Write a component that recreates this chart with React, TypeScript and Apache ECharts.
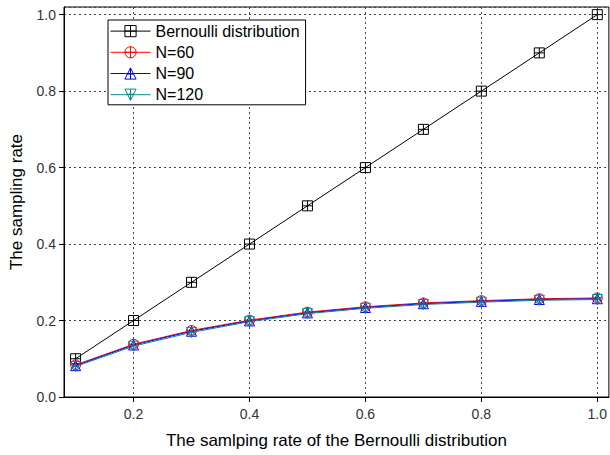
import React, { useEffect, useRef } from "react";
import * as echarts from "echarts";

// Sampling rates of the Bernoulli distribution (x axis)
const rates = [0.1, 0.2, 0.3, 0.4, 0.5, 0.6, 0.7, 0.8, 0.9, 1.0];
// Reference line: Bernoulli distribution sampling rate
const bernoulli = [0.1, 0.2, 0.3, 0.4, 0.5, 0.6, 0.7, 0.8, 0.9, 1.0];
// Measured sampling rates for different N
const n60 = [0.084, 0.138, 0.174, 0.201, 0.222, 0.236, 0.246, 0.252, 0.257, 0.259];
const n90 = [0.082, 0.136, 0.172, 0.199, 0.220, 0.234, 0.244, 0.250, 0.255, 0.257];
const n120 = [0.080, 0.133, 0.169, 0.197, 0.218, 0.232, 0.242, 0.248, 0.253, 0.255];
const xTicks = [0.2, 0.4, 0.6, 0.8, 1.0];

const SYM_SQUARE = "path://M0,0H10V10H0Z M5,0V10 M0,5H10";
const SYM_CIRCLE = "path://M0,5A5,5,0,1,1,10,5A5,5,0,1,1,0,5Z M5,0V10 M0,5H10";
const SYM_TRI_UP = "path://M5,0L10,10H0Z M5,0V10 M2,5.5H8";
const SYM_TRI_DOWN = "path://M0,0H10L5,10Z M5,0V10 M2,4.5H8";

const FONT = "Liberation Sans, Arial, sans-serif";

function makeSeries(name: string, values: number[], color: string, symbol: string) {
  return {
    name,
    type: "line",
    data: rates.map((x, i) => [x, values[i]]),
    symbol,
    symbolSize: 10,
    lineStyle: { color, width: 1 },
    itemStyle: { color: "none", borderColor: color, borderWidth: 1 },
    emphasis: { disabled: true },
  };
}

export default function App() {
  const ref = useRef<HTMLDivElement>(null);
  useEffect(() => {
    document.body.style.margin = "0";
    if (!ref.current) return;
    const chart = echarts.init(ref.current, undefined, { renderer: "svg" });
    const gridLine = { show: true, lineStyle: { color: "#444", type: [2, 3], width: 1 } };
    chart.setOption({
      animation: false,
      backgroundColor: "#fff",
      textStyle: { fontFamily: FONT },
      grid: {
        left: 63,
        right: -2,
        top: 7,
        bottom: 58,
        show: true,
        borderColor: "#000",
        borderWidth: 1,
        backgroundColor: "transparent",
      },
      legend: {
        orient: "vertical",
        left: 108,
        top: 20,
        padding: [3, 6, 2, 2],
        itemWidth: 40,
        itemHeight: 14,
        itemGap: 5,
        backgroundColor: "#fff",
        borderColor: "#000",
        borderWidth: 1,
        lineStyle: { width: 1 },
        itemStyle: { borderWidth: 1 },
        textStyle: { fontSize: 16, color: "#000", fontFamily: FONT },
        data: ["Bernoulli distribution", "N=60", "N=90", "N=120"],
      },
      xAxis: {
        type: "value",
        min: 0.08,
        max: 1.02,
        name: "The samlping rate of the Bernoulli distribution",
        nameLocation: "middle",
        nameGap: 35,
        nameTextStyle: { fontSize: 17, color: "#000", fontFamily: FONT },
        axisLine: { show: true, onZero: false, lineStyle: { color: "#000", width: 1 } },
        axisTick: { show: true, customValues: xTicks, length: 5, lineStyle: { color: "#000" } },
        axisLabel: {
          customValues: xTicks,
          fontSize: 14,
          color: "#333",
          margin: 10,
          fontFamily: FONT,
          formatter: (v: number) => v.toFixed(1),
        },
        splitLine: gridLine,
      },
      yAxis: {
        type: "value",
        min: 0,
        max: 1.02,
        interval: 0.2,
        name: "The sampling rate",
        nameLocation: "middle",
        nameGap: 39,
        nameTextStyle: { fontSize: 17, color: "#000", fontFamily: FONT },
        axisLine: { show: true, lineStyle: { color: "#000", width: 1 } },
        axisTick: { show: true, length: 5, lineStyle: { color: "#000" } },
        axisLabel: {
          fontSize: 14,
          color: "#333",
          margin: 8,
          fontFamily: FONT,
          showMaxLabel: false,
          formatter: (v: number) => (v > 1.001 ? "" : v.toFixed(1)),
        },
        splitLine: gridLine,
      },
      series: [
        makeSeries("Bernoulli distribution", bernoulli, "#000000", SYM_SQUARE),
        makeSeries("N=60", n60, "#ff0000", SYM_CIRCLE),
        makeSeries("N=90", n90, "#0000ff", SYM_TRI_UP),
        makeSeries("N=120", n120, "#008b8b", SYM_TRI_DOWN),
      ],
    });
    return () => chart.dispose();
  }, []);
  return <div ref={ref} style={{ width: 610, height: 455 }} />;
}
